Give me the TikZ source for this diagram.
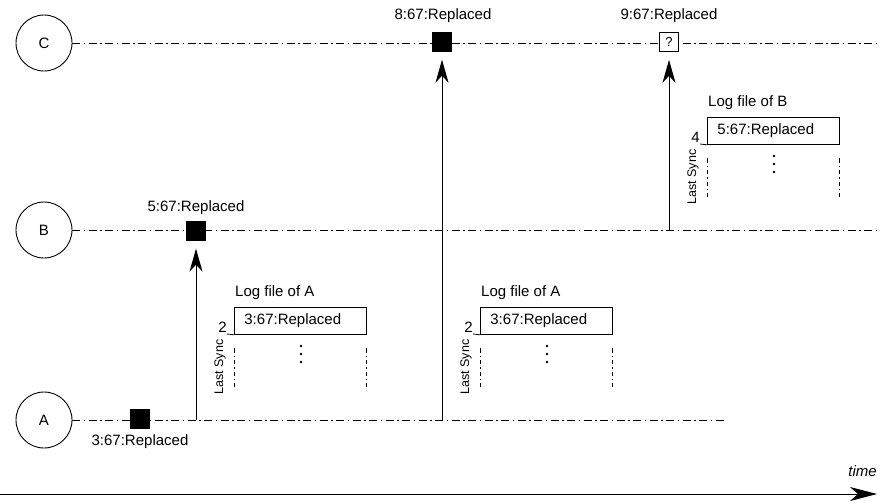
\documentclass[tikz,border=0pt]{standalone}
\usepackage{fontspec}
\setmainfont{Liberation Sans}
\usetikzlibrary{arrows.meta}
\begin{document}
\begin{tikzpicture}[x=1pt,y=-1pt,
  every node/.style={font=\fontsize{15}{18}\selectfont},
  proc/.style={draw, circle, minimum size=56pt, inner sep=0pt, line width=0.9pt},
  timeline/.style={line width=0.8pt, dash pattern=on 8pt off 3.5pt on 1.5pt off 3.5pt},
  sidedash/.style={line width=0.8pt, dash pattern=on 4.5pt off 3pt on 1.3pt off 3pt},
  event/.style={draw, fill=black, minimum size=19pt, inner sep=0pt},
  unknown/.style={draw, fill=white, minimum size=19pt, inner sep=0pt, line width=0.7pt,
    font=\fontsize{13}{15}\selectfont},
  msg/.style={line width=0.9pt, shorten >=8pt, -{Stealth[length=23pt,width=13pt,inset=7pt]}},
  logrow/.style={draw, line width=0.8pt, minimum width=132pt, minimum height=27pt,
    inner xsep=10pt, inner ysep=0pt, text width=112pt, align=left},
  synclabel/.style={rotate=90, font=\fontsize{12.5}{14}\selectfont, inner sep=0pt},
  dot/.style={circle, fill=black, inner sep=0pt, minimum size=2.6pt},
]
\useasboundingbox (0,0) rectangle (880,503);

% processes
\node[proc] (C) at (44,43) {C};
\node[proc] (B) at (44,230) {B};
\node[proc] (A) at (44,420) {A};

% time lines
\coordinate (Cend) at (880,43);
\coordinate (Bend) at (880,230);
\coordinate (Aend) at (725,420);
\draw[timeline] (C.east) -- (Cend);
\draw[timeline] (B.east) -- (Bend);
\draw[timeline] (A.east) -- (Aend);

% events
\node[event] (evA) at (140,419) {};
\node[event] (evB) at (196,231) {};
\node[event] (evC) at (442,42) {};
\node[unknown] (evQ) at (669,42) {?};

\node (labA) at (140,442) {3:67:Replaced};
\node (labB) at (196,208) {5:67:Replaced};
\node (labC) at (443,16) {8:67:Replaced};
\node (labQ) at (669,16) {9:67:Replaced};

% messages
\coordinate (mAB) at (196,420);
\coordinate (mAC) at (442,420);
\coordinate (mBC) at (669,230);
\draw[msg] (mAB) -- (evB);
\draw[msg] (mAC) -- (evC);
\draw[msg] (mBC) -- (evQ);

% log files
\foreach \L/\T/\n/\who/\e/\s in {234/307/a1/A/3/2, 480/307/a2/A/3/2, 707/117/b/B/5/4}{
  \node[anchor=west, inner sep=0pt] (title\n) at (\L+1,\T-14) {Log file of \who};
  \node[logrow, anchor=north west] (row\n) at (\L,\T) {\e:67:Replaced};
  \coordinate (tick\n) at (\L-7,\T+27);
  \draw[line width=0.8pt] (row\n.south west) -- (tick\n);
  \node[anchor=south east, inner sep=0pt] (sync\n) at (\L-7,\T+26) {\s};
  \draw[sidedash] (\L,\T+41) -- (\L,\T+80);
  \draw[sidedash] (\L+132,\T+41) -- (\L+132,\T+80);
  \foreach \k in {0,1,2}
    \node[dot] (dot\n\k) at (\L+67,\T+39+8*\k) {};
  \node[synclabel] (last\n) at (\L-14,\T+60) {Last Sync};
}

% time axis
\coordinate (t0) at (0,494);
\coordinate (t1) at (877,494);
\draw[line width=0.9pt, -{Stealth[length=27pt,width=14pt,inset=8pt]}] (t0) -- (t1);
\node[anchor=east, inner sep=0pt, font=\fontsize{15}{18}\selectfont\itshape] (tlabel) at (877,471) {time};
\end{tikzpicture}
\end{document}
